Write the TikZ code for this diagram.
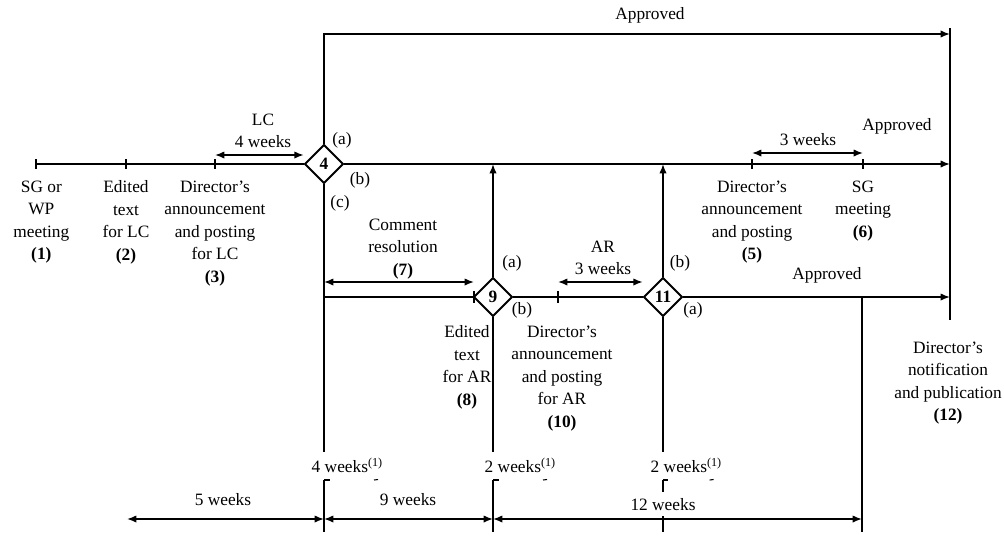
\documentclass[tikz,border=0pt]{standalone}
\usepackage{fontspec}
\setmainfont{Liberation Serif}
\usetikzlibrary{arrows.meta,positioning,shapes}

\begin{document}
\begin{tikzpicture}[>={Latex[length=7pt,width=5.5pt]},x=0.75pt,y=0.75pt,line width=1.1pt,
			font=\fontsize{13}{16.9}\selectfont]
			\tikzstyle{gate}=[diamond,draw=black,line width=1.4pt,minimum size=29pt,inner sep=0pt,font=\fontsize{13}{16}\selectfont\bfseries]
			\tikzstyle{txt}=[align=center,inner sep=0pt]
			\tikzstyle{tk}=[line width=0.8pt]
			\useasboundingbox (0,0) rectangle (1004,-537);
			
			% decision points
			\node[gate] (D4)  at (324,-164) {4};
			\node[gate] (D9)  at (493,-297) {9};
			\node[gate] (D11) at (663,-297) {11};
			
			% points on the lines
			\coordinate (P1) at (36,-164);
			\coordinate (P2) at (126,-164);
			\coordinate (P3) at (215,-164);
			\coordinate (P5) at (752,-164);
			\coordinate (P6) at (863,-164);
			\coordinate (E1) at (950,-164);
			\coordinate (C0) at (324,-34);
			\coordinate (E0) at (950,-34);
			\coordinate (E2) at (950,-297);
			\coordinate (R1) at (950,-28);
			\coordinate (R2) at (950,-320);
			\coordinate (K7) at (324,-297);
			\coordinate (Q7) at (474,-297);
			\coordinate (Q10) at (558,-297);
			\coordinate (B4) at (324,-452);
			\coordinate (B9) at (493,-452);
			\coordinate (B11) at (663,-452);
			\coordinate (T4) at (324,-480);
			\coordinate (T9) at (493,-480);
			\coordinate (T11) at (663,-480);
			\coordinate (L0) at (127,-519);
			\coordinate (L4) at (324,-519);
			\coordinate (L9) at (493,-519);
			\coordinate (L11) at (663,-519);
			\coordinate (L12) at (862,-519);
			
			% lines
			\draw (P1) -- (D4.west);
			\draw[->] (D4.east) -- (E1);
			\draw[->] (D4.north) -- (C0) -- (E0);
			\draw (R1) -- (R2);
			\draw (D4.south) -- (B4);
			\draw (K7) -- (D9.west);
			\draw[->] (D9.north) -- (D9 |- D4);
			\draw (D9.east) -- (D11.west);
			\draw[->] (D11.north) -- (D11 |- D4);
			\draw[->] (D11.east) -- (E2);
			\draw (D9.south) -- (B9);
			\draw (D11.south) -- (B11);
			\draw (L12 |- E2) -- ([yshift=-9.75pt]L12);
			\draw (T4) -- ([yshift=-9.75pt]L4);
			\draw (T9) -- ([yshift=-9.75pt]L9);
			
			% ticks
			\draw[tk] (P1) ++(0,5) -- ++(0,-10) (P2) ++(0,5) -- ++(0,-10)
			(P3) ++(0,5) -- ++(0,-10) (P5) ++(0,5) -- ++(0,-10)
			(P6) ++(0,5) -- ++(0,-10) (Q7) ++(0,6) -- ++(0,-12)
			(Q10) ++(0,6) -- ++(0,-12) (L11) ++(0,3) -- ++(0,-16);
			\draw[tk] (T4) -- ++(6,0) (T9) -- ++(6,0) (T11) -- ++(0,-12) (T11) -- ++(5,0);
			\draw[tk] ([xshift=37.5pt]T4) -- ++(4,0.5) ([xshift=37.5pt]T9) -- ++(4,0.5)
			([xshift=35pt]T11) -- ++(4,0.5);
			
			% durations
			\draw[<->] ([yshift=6.75pt]P3) -- ([yshift=6.75pt]D4.west);
			\draw[<->] ([yshift=8.25pt]P5) -- ([yshift=8.25pt]P6);
			\draw[<->] ([yshift=11.25pt]K7) -- ([yshift=11.25pt]Q7);
			\draw[<->] ([yshift=11.25pt]Q10) -- ([yshift=11.25pt]D11.west);
			\draw[<->] (L0) -- (L4);
			\draw[<->] (L4) -- (L9);
			\draw[<->] (L9) -- (L12);
			
			% events
			\node[txt,below=12pt of P1,xshift=4pt] (N1) {SG or\\WP\\meeting\\\textbf{(1)}};
			\node[txt,below=12pt of P2] (N2) {Edited\\text\\for LC\\\textbf{(2)}};
			\node[txt,below=12pt of P3] (N3) {Director's\\announcement\\and posting\\for LC\\\textbf{(3)}};
			\node[txt,below=12pt of P5] (N5) {Director's\\announcement\\and posting\\\textbf{(5)}};
			\node[txt,below=12pt of P6] (N6) {SG\\meeting\\\textbf{(6)}};
			\node[txt,anchor=north] (N7) at (403,-218) {Comment\\resolution\\\textbf{(7)}};
			\node[txt,anchor=north] (N8) at (467,-325) {Edited\\text\\for AR\\\textbf{(8)}};
			\node[txt,anchor=north] (N10) at (562,-325) {Director's\\announcement\\and posting\\for AR\\\textbf{(10)}};
			\node[txt,below=15.75pt of R2,xshift=-1.5pt] (N12) {Director's\\notification\\and publication\\\textbf{(12)}};
			
			% branches
			\node (La4) at (342,-140) {(a)};
			\node (Lb4) at (360,-180) {(b)};
			\node (Lc4) at (340,-203) {(c)};
			\node (La9) at (512,-263) {(a)};
			\node (Lb9) at (522,-310) {(b)};
			\node (Lb11) at (680,-263) {(b)};
			\node (La11) at (693,-310) {(a)};
			\node (AP1) at (650,-15) {Approved};
			\node (AP2) at (897,-126) {Approved};
			\node (AP3) at (827,-275) {Approved};
			
			% periods
			\node[txt] (LC) at (263,-131) {LC\\4 weeks};
			\node (W3) at (808,-140) {3 weeks};
			\node[txt] (AR) at (603,-258) {AR\\3 weeks};
			\node[anchor=west,inner sep=0pt] (W4) at (311,-465) {4 weeks\textsuperscript{(1)}};
			\node[anchor=west,inner sep=0pt] (W9) at (484,-465) {2 weeks\textsuperscript{(1)}};
			\node[anchor=west,inner sep=0pt] (W11) at (650,-465) {2 weeks\textsuperscript{(1)}};
			\node (S5) at (223,-500) {5 weeks};
			\node (S9) at (408,-500) {9 weeks};
			\node (S12) at (663,-505) {12 weeks};
			
\end{tikzpicture}
\end{document}
